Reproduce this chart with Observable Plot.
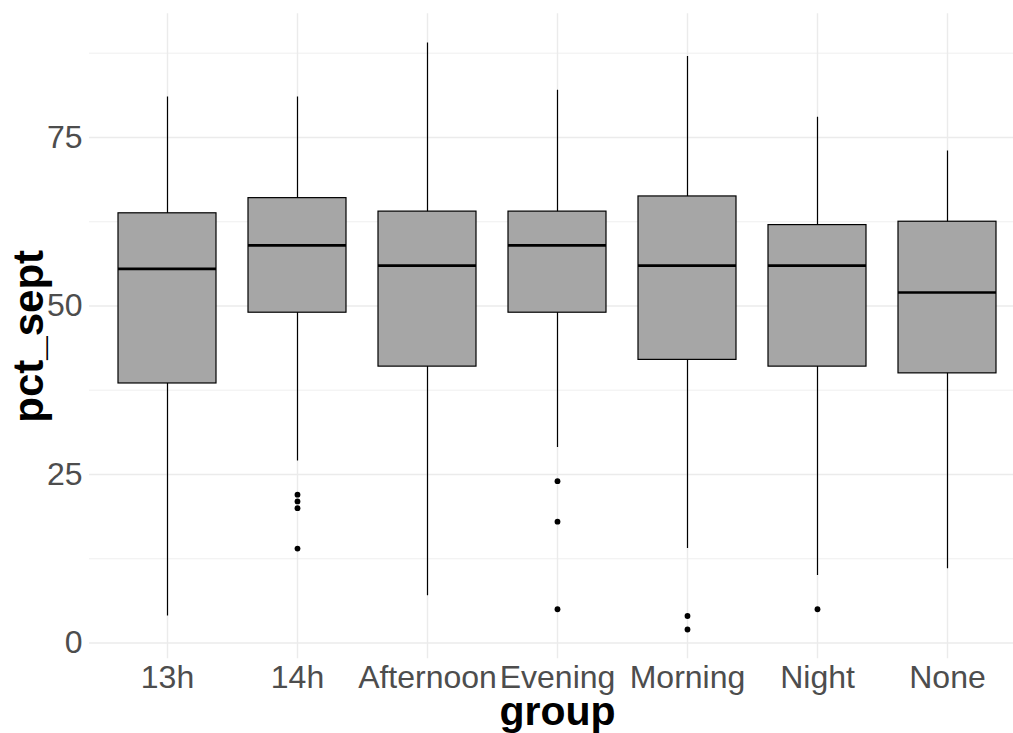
<!DOCTYPE html>
<html>
<head>
<meta charset="utf-8">
<script src="https://cdn.jsdelivr.net/npm/d3@7"></script>
<script src="https://cdn.jsdelivr.net/npm/@observablehq/plot@0.6"></script>
<style>
  html, body { margin: 0; padding: 0; background: #fff; overflow: hidden; }
  #chart svg { display: block; }
</style>
</head>
<body>
<div id="chart"></div>
<script>
const groups = ["13h", "14h", "Afternoon", "Evening", "Morning", "Night", "None"];
const whiskerLow = [4, 27, 7, 29, 14, 10, 11];
const q1 = [38.5, 49, 41, 49, 42, 41, 40];
const median = [55.5, 59, 56, 59, 56, 56, 52];
const q3 = [63.75, 66, 64, 64, 66.25, 62, 62.5];
const whiskerHigh = [81, 81, 89, 82, 87, 78, 73];
const outlierGroup = ["14h", "14h", "14h", "14h", "Evening", "Evening", "Evening", "Morning", "Morning", "Night"];
const outlierValue = [22, 21, 20, 14, 24, 18, 5, 4, 2, 5];
const majorTicks = [0, 25, 50, 75];
const minorTicks = [12.5, 37.5, 62.5, 87.5];

const boxes = groups.map((g, i) => ({
  group: g, lo: whiskerLow[i], q1: q1[i], med: median[i], q3: q3[i], hi: whiskerHigh[i]
}));
const outliers = outlierGroup.map((g, i) => ({group: g, value: outlierValue[i]}));

const font = "'Liberation Sans', Arial, Helvetica, sans-serif";

const chart = Plot.plot({
  width: 1013,
  height: 733,
  marginLeft: 89,
  marginRight: 0,
  marginTop: 13.3,
  marginBottom: 74.7,
  style: {fontFamily: font, fontSize: "32px", color: "#4d4d4d", background: "#fff"},
  x: {
    type: "band",
    domain: groups,
    range: [88.6, 1025.4],
    paddingInner: 0.25,
    paddingOuter: 0.225,
    align: 0.5
  },
  y: {domain: [-2.35, 93.35]},
  marks: [
    Plot.ruleY(minorTicks, {stroke: "#ebebeb", strokeWidth: 0.8}),
    Plot.ruleY(majorTicks, {stroke: "#ebebeb", strokeWidth: 1.4}),
    Plot.ruleX(groups, {x: d => d, stroke: "#ebebeb", strokeWidth: 1.4}),
    Plot.ruleX(boxes, {x: "group", y1: "lo", y2: "hi", stroke: "#000", strokeWidth: 1.2}),
    Plot.barY(boxes, {x: "group", y1: "q1", y2: "q3", fill: "#a6a6a6", stroke: "#000", strokeWidth: 1.2}),
    Plot.tickY(boxes, {x: "group", y: "med", stroke: "#000", strokeWidth: 2.7}),
    Plot.dot(outliers, {x: "group", y: "value", r: 2.9, fill: "#000", stroke: null}),
    Plot.axisY(majorTicks, {tickSize: 0, tickPadding: 7, label: null, fontSize: 32, color: "#4d4d4d"}),
    Plot.axisX({tickSize: 0, tickPadding: 6, label: null, fontSize: 32, color: "#4d4d4d"}),
    Plot.text(["group"], {frameAnchor: "bottom", dx: 6, dy: 66, fontSize: 41, fontWeight: "bold", fill: "#000", textAnchor: "middle"}),
    Plot.text(["pct_sept"], {frameAnchor: "left", dx: -60, rotate: -90, fontSize: 42, fontWeight: "bold", fill: "#000", textAnchor: "middle"})
  ]
});
document.getElementById("chart").appendChild(chart);
</script>
</body>
</html>
